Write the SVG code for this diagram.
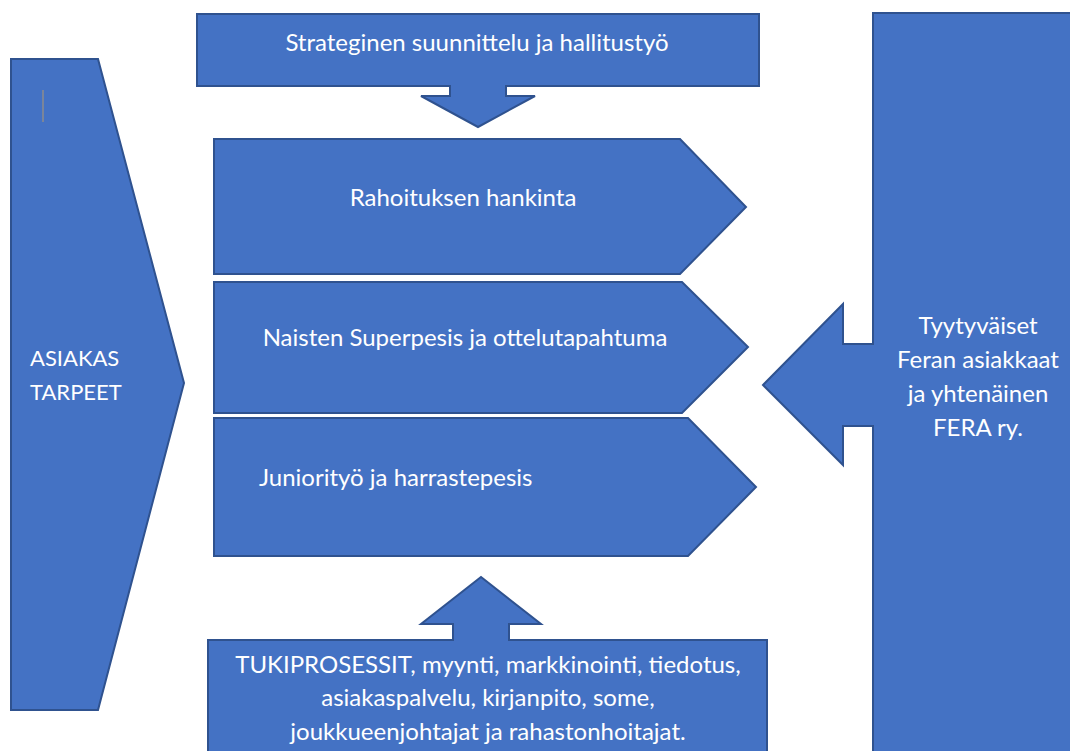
<svg xmlns="http://www.w3.org/2000/svg" width="1070" height="751" viewBox="0 0 1070 751">
  <style>
    .shape { fill: #4472C4; stroke: #2F528F; stroke-width: 2; stroke-linejoin: miter; }
    .label { fill: #FFFFFF; font-family: "Lato", "Open Sans", "Liberation Sans", sans-serif; font-size: 24px; }
    .caps { font-size: 22px; }
    .mid { text-anchor: middle; }
  </style>
  <rect width="1070" height="751" fill="#FFFFFF"/>

  <!-- customer needs: wide pentagon arrow on the left -->
  <g id="asiakas-tarpeet">
    <path class="shape" d="M11,59 H98 L184,383 L98,710 H11 Z"/>
    <line x1="43" y1="90" x2="43" y2="122" stroke="#8C8C8C" stroke-width="1.5"/>
    <text class="label caps" x="30" y="366">ASIAKAS</text>
    <text class="label caps" x="30" y="400">TARPEET</text>
  </g>

  <!-- strategy box with a downward arrow -->
  <g id="strategia">
    <path class="shape" d="M197,14 H759 V86 H506 V96 H535 L478,127 L421,96 H450 V86 H197 Z"/>
    <text class="label mid" x="477" y="51">Strateginen suunnittelu ja hallitustyö</text>
  </g>

  <!-- core processes -->
  <g id="rahoitus">
    <path class="shape" d="M214,139 H680 L746,207 L680,274 H214 Z"/>
    <text class="label mid" x="463" y="206">Rahoituksen hankinta</text>
  </g>
  <g id="superpesis">
    <path class="shape" d="M214,282 H682 L748,347 L682,413 H214 Z"/>
    <text class="label mid" x="465" y="346">Naisten Superpesis ja ottelutapahtuma</text>
  </g>
  <g id="juniorit">
    <path class="shape" d="M214,418 H688 L756,487 L688,556 H214 Z"/>
    <text class="label" x="259" y="486">Juniorityö ja harrastepesis</text>
  </g>

  <!-- support processes with an upward arrow -->
  <g id="tukiprosessit">
    <path class="shape" d="M208,760 V640 H453 V624 H421 L481,577 L541,624 H509 V640 H767 V760 Z"/>
    <text class="label mid" x="488" y="673">TUKIPROSESSIT, myynti, markkinointi, tiedotus,</text>
    <text class="label mid" x="488" y="706">asiakaspalvelu, kirjanpito, some,</text>
    <text class="label mid" x="488" y="740">joukkueenjohtajat ja rahastonhoitajat.</text>
  </g>

  <!-- satisfied customers: tall box with a leftward arrow -->
  <g id="tyytyvaiset">
    <path class="shape" d="M873,13 H1075 V760 H873 V426 H843 V465 L763,385 L843,304 V344 H873 Z"/>
    <text class="label mid" x="978" y="334">Tyytyväiset</text>
    <text class="label mid" x="978" y="368">Feran asiakkaat</text>
    <text class="label mid" x="978" y="402">ja yhtenäinen</text>
    <text class="label mid" x="978" y="436">FERA ry.</text>
  </g>

  <g id="connectors"></g>
</svg>
